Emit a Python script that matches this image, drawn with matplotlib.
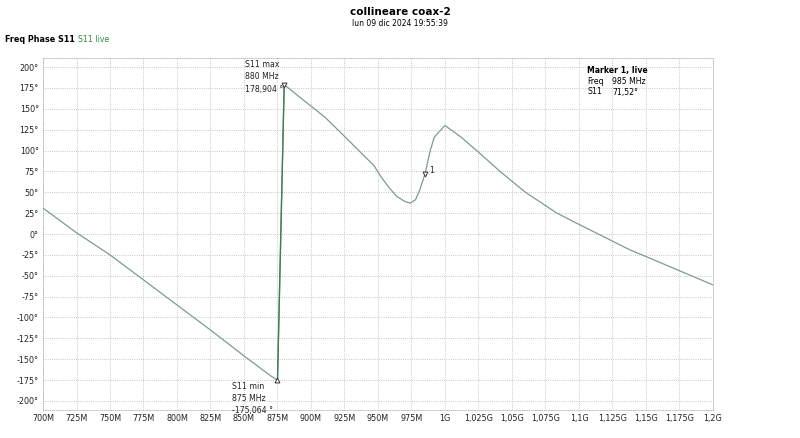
import matplotlib
matplotlib.use("Agg")
import matplotlib.pyplot as plt
import numpy as np

# ---- data ----
freq_mhz = [700, 725, 750, 775, 800, 825, 850, 860, 870, 875,
            880, 895, 910, 925, 940, 947, 952, 958, 964, 970,
            974, 978, 981, 985, 989, 992, 996, 1000, 1012, 1025,
            1041, 1060, 1083, 1100, 1120, 1138, 1150, 1175, 1200]
phase_deg = [31, 1.5, -25, -55, -85, -115, -146, -158, -170, -175.064,
             178.904, 159.5, 140.5, 117, 93, 82, 69, 56, 45, 39,
             37, 41, 52, 71.52, 100, 116, 123, 130, 116, 98,
             75, 50, 25.5, 11.5, -4.5, -19, -27, -44, -61]

x_ticks_mhz = [700 + 25 * i for i in range(21)]
x_tick_labels = ["700M", "725M", "750M", "775M", "800M", "825M", "850M", "875M",
                 "900M", "925M", "950M", "975M", "1G", "1,025G", "1,05G", "1,075G",
                 "1,1G", "1,125G", "1,15G", "1,175G", "1,2G"]
y_ticks = list(range(-200, 201, 25))
y_tick_labels = [f"{v}°" for v in y_ticks]

max_point = (880, 178.904)
min_point = (875, -175.064)
marker1 = (985, 71.52)

W, H = 800, 438
fig = plt.figure(figsize=(W / 100, H / 100), dpi=100)
plt.rcParams['font.family'] = ['DejaVu Sans']

def fx(px):
    return px / W

def fy(py):
    return 1 - py / H

ax = fig.add_axes([fx(43), fy(410), fx(713) - fx(43), fy(58) - fy(410)])
ax.set_xlim(700, 1200)
ax.set_ylim(-210.8, 210.8)

trace_color = "#7f9c89"
ax.plot(freq_mhz, phase_deg, color=trace_color, lw=0.9, zorder=3)
# steep jump segment appears darker green
i0 = freq_mhz.index(875)
ax.plot(freq_mhz[i0:i0 + 2], phase_deg[i0:i0 + 2], color="#3f7f55", lw=1.0, zorder=4)

# markers
ax.plot([max_point[0]], [max_point[1]], marker="v", ms=3.5, mfc="white", mec="#333333", mew=0.7, zorder=5)
ax.plot([min_point[0]], [min_point[1]], marker="^", ms=3.5, mfc="white", mec="#333333", mew=0.7, zorder=5)
ax.plot([marker1[0]], [marker1[1]], marker="v", ms=3.5, mfc="white", mec="#333333", mew=0.7, zorder=5)

ax.set_xticks(x_ticks_mhz)
ax.set_xticklabels(x_tick_labels)
ax.set_yticks(y_ticks)
ax.set_yticklabels(y_tick_labels)
ax.tick_params(axis="both", length=0, labelsize=5.8, colors="#222222", pad=3)
ax.grid(True, color="#b5b5b5", lw=0.6, ls=(0, (1, 1.6)))
for s in ax.spines.values():
    s.set_color("#b5b5b5")
    s.set_linewidth(0.6)
    s.set_linestyle((0, (1, 1.6)))

# annotations in data coords
ax.text(851, 208, "S11 max\n880 MHz\n178,904 °", fontsize=5.6, ha="left", va="top",
        linespacing=1.45, color="#222222")
ax.text(841, -177, "S11 min\n875 MHz\n-175,064 °", fontsize=5.6, ha="left", va="top",
        linespacing=1.45, color="#222222")
ax.text(988, 76, "1", fontsize=5.6, ha="left", va="center", color="#222222")

# titles
fig.text(fx(400), fy(12), "collineare coax-2", fontsize=7.5, fontweight="bold", ha="center", va="center")
fig.text(fx(400), fy(23), "lun 09 dic 2024 19:55:39", fontsize=5.5, ha="center", va="center")
fig.text(fx(5), fy(39), "Freq Phase S11", fontsize=5.8, fontweight="bold", ha="left", va="center")
fig.text(fx(78), fy(39), "S11 live", fontsize=5.6, color="#2e8b3a", ha="left", va="center")

# marker box
fig.text(fx(587), fy(70), "Marker 1, live", fontsize=5.6, fontweight="bold", ha="left", va="center")
fig.text(fx(587), fy(81), "Freq", fontsize=5.6, ha="left", va="center")
fig.text(fx(612), fy(81), "985 MHz", fontsize=5.6, ha="left", va="center")
fig.text(fx(587), fy(92), "S11", fontsize=5.6, ha="left", va="center")
fig.text(fx(612), fy(92), "71,52°", fontsize=5.6, ha="left", va="center")

fig.savefig("out.png", dpi=100)
